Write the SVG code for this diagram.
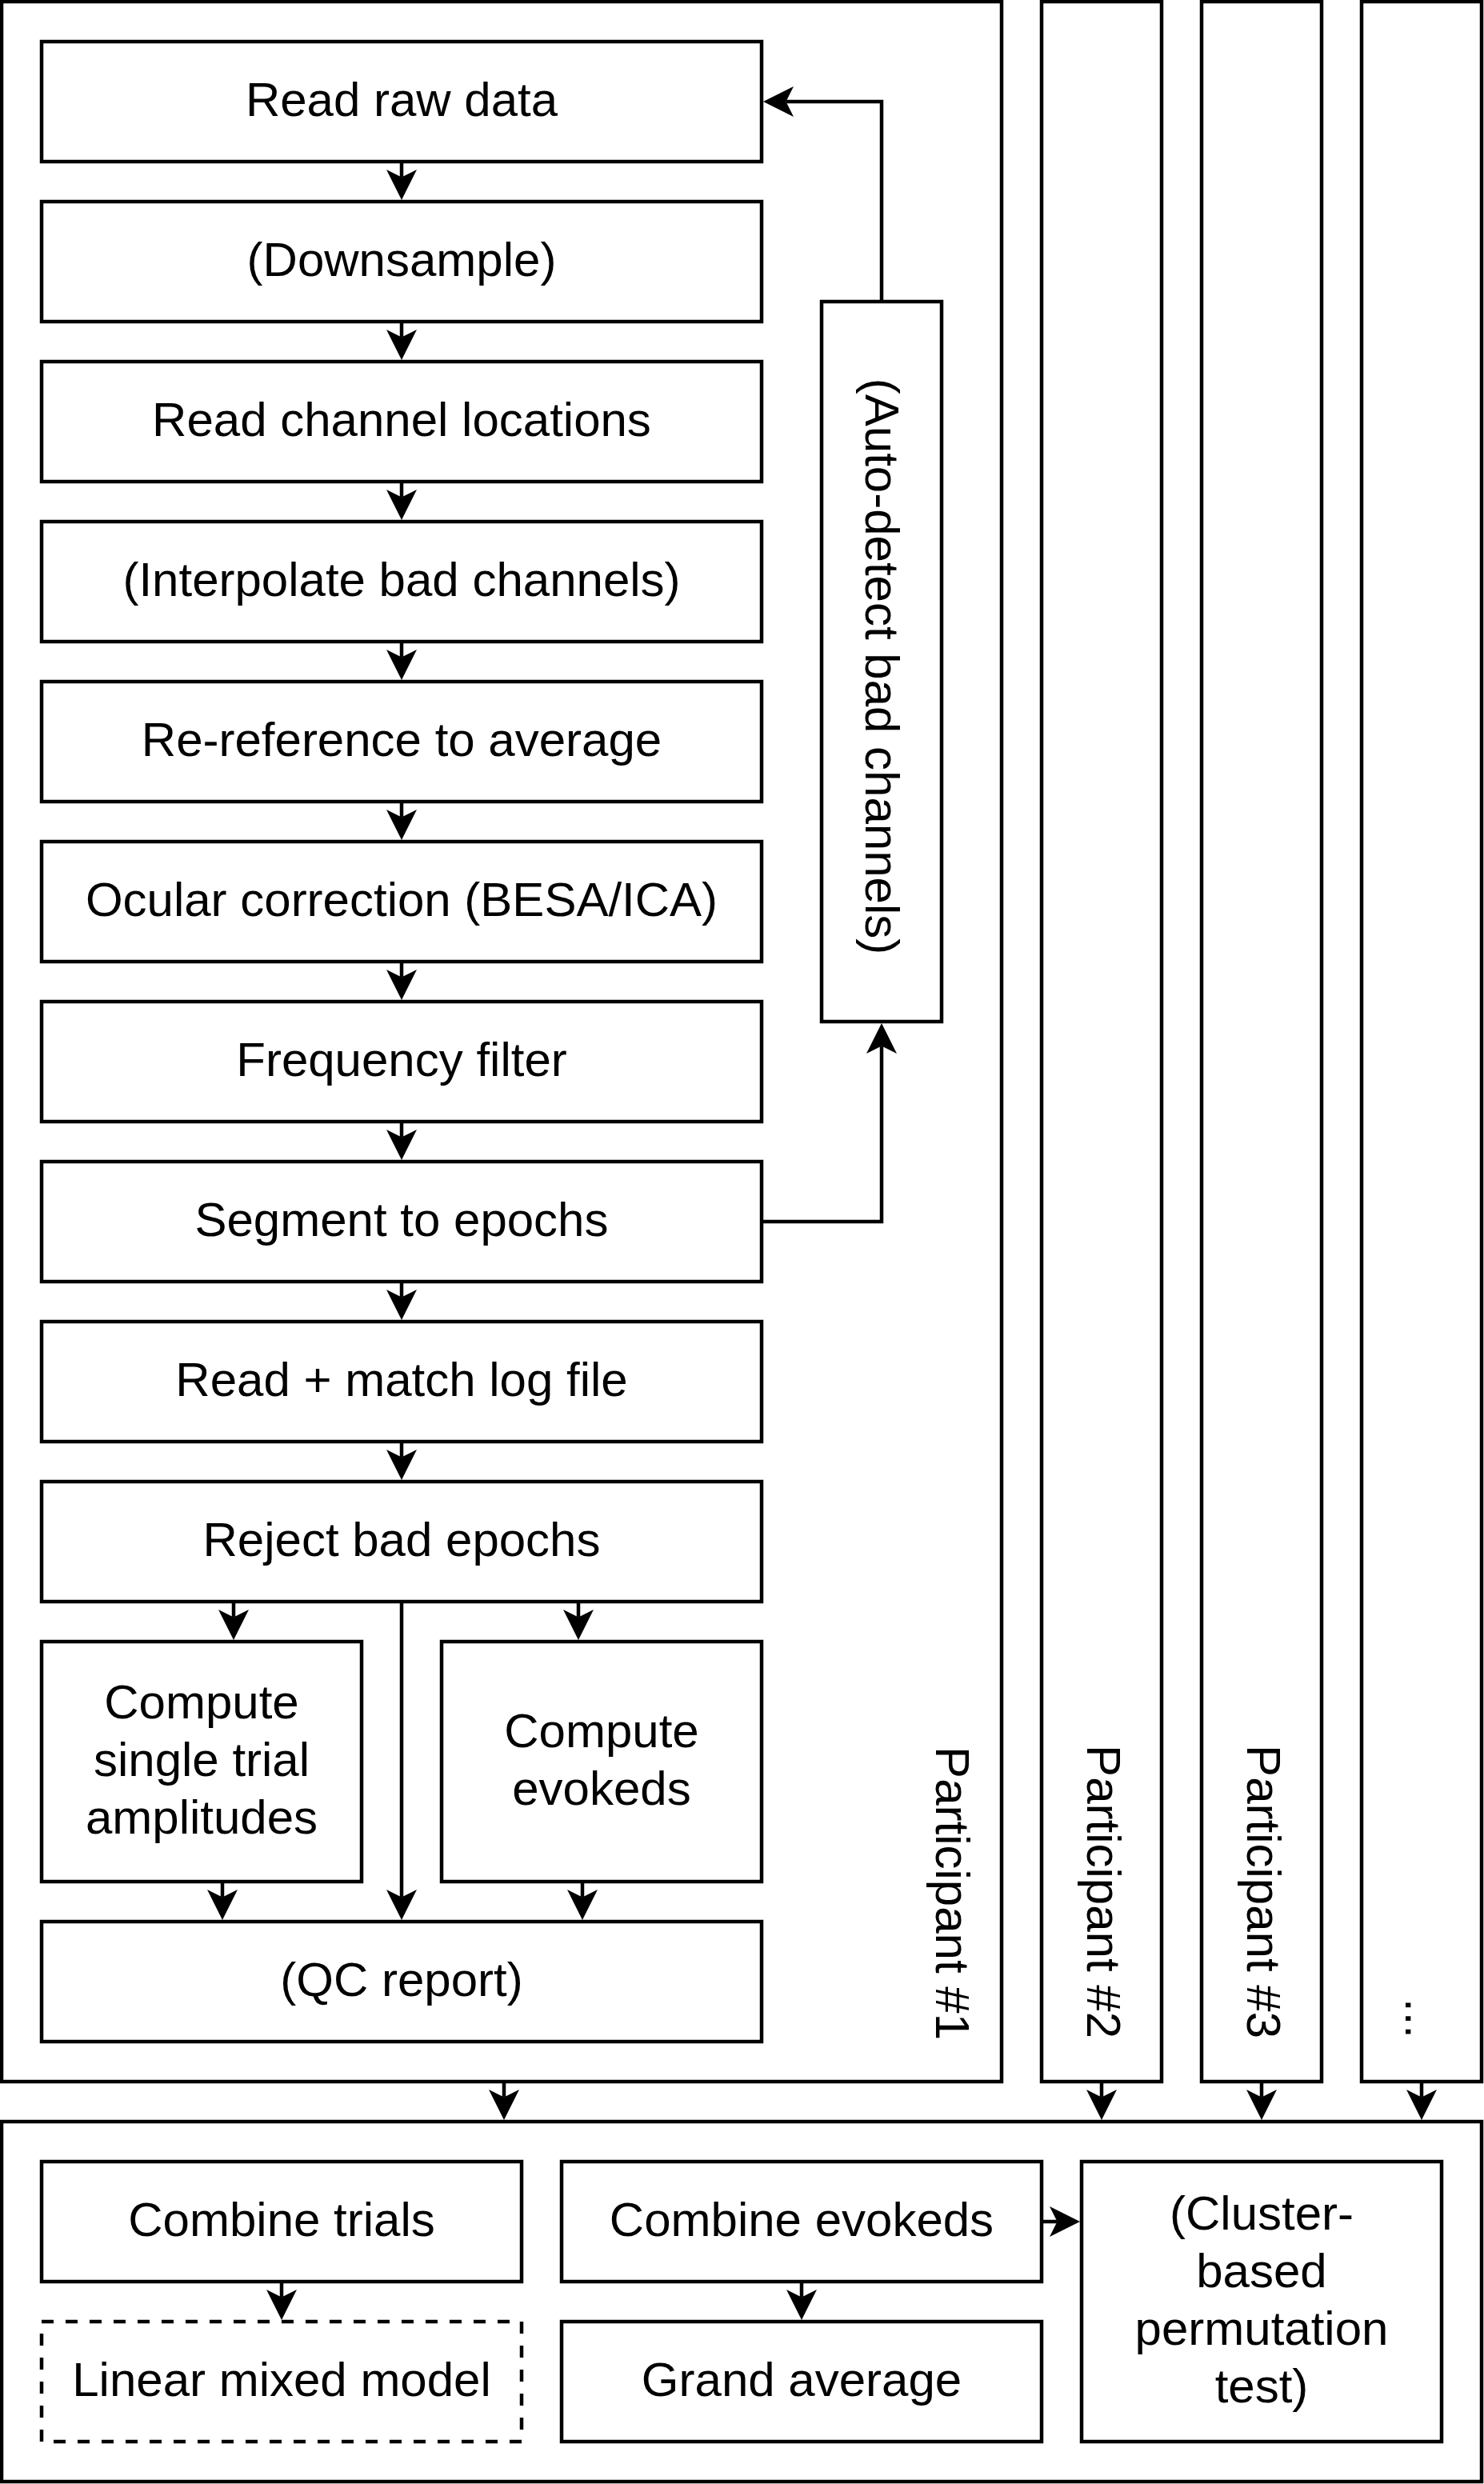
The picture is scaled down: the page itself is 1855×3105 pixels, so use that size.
<svg xmlns="http://www.w3.org/2000/svg" width="1855" height="3105" viewBox="0 0 1855 3105">
<style>
.box{fill:#fff;stroke:#000;stroke-width:4.5}
.cont{fill:#fff;stroke:#000;stroke-width:4.5}
.dash{fill:#fff;stroke:#000;stroke-width:4.5;stroke-dasharray:15 15}
.lbl{font-family:"Liberation Sans",Arial,Helvetica,sans-serif;font-size:60px;fill:#000;text-anchor:middle}
.end{text-anchor:end}
.edge{fill:none;stroke:#000;stroke-width:4.5;marker-end:url(#ah)}
</style>
<defs>
<marker id="ah" markerUnits="userSpaceOnUse" markerWidth="38" markerHeight="38" viewBox="0 0 38 38" refX="9.5" refY="19" orient="auto" overflow="visible">
<path d="M0,0 L38,19 L0,38 L9.5,19 Z" fill="#000"/>
</marker>
</defs>
<rect x="0" y="0" width="1855" height="3105" fill="#fff"/>
<g id="containers">
<g id="participant1"><rect class="cont" x="2" y="2" width="1250" height="2600"/><text class="lbl end" transform="translate(1170,2550) rotate(90)">Participant #1</text></g>
<g id="participant2"><rect class="cont" x="1302" y="2" width="150" height="2600"/><text class="lbl end" transform="translate(1359,2548) rotate(90)">Participant #2</text></g>
<g id="participant3"><rect class="cont" x="1502" y="2" width="150" height="2600"/><text class="lbl end" transform="translate(1559,2548) rotate(90)">Participant #3</text></g>
<g id="participantN"><rect class="cont" x="1702" y="2" width="150" height="2600"/><text class="lbl end" transform="translate(1757,2548) rotate(90)">...</text></g>
<g id="group"><rect class="cont" x="2" y="2652" width="1850" height="450"/></g>
</g>
<g id="n0"><rect class="box" x="52" y="52" width="900" height="150"/><text class="lbl" x="502" y="145">Read raw data</text></g>
<g id="n1"><rect class="box" x="52" y="252" width="900" height="150"/><text class="lbl" x="502" y="345">(Downsample)</text></g>
<g id="n2"><rect class="box" x="52" y="452" width="900" height="150"/><text class="lbl" x="502" y="545">Read channel locations</text></g>
<g id="n3"><rect class="box" x="52" y="652" width="900" height="150"/><text class="lbl" x="502" y="745">(Interpolate bad channels)</text></g>
<g id="n4"><rect class="box" x="52" y="852" width="900" height="150"/><text class="lbl" x="502" y="945">Re-reference to average</text></g>
<g id="n5"><rect class="box" x="52" y="1052" width="900" height="150"/><text class="lbl" x="502" y="1145">Ocular correction (BESA/ICA)</text></g>
<g id="n6"><rect class="box" x="52" y="1252" width="900" height="150"/><text class="lbl" x="502" y="1345">Frequency filter</text></g>
<g id="n7"><rect class="box" x="52" y="1452" width="900" height="150"/><text class="lbl" x="502" y="1545">Segment to epochs</text></g>
<g id="n8"><rect class="box" x="52" y="1652" width="900" height="150"/><text class="lbl" x="502" y="1745">Read + match log file</text></g>
<g id="n9"><rect class="box" x="52" y="1852" width="900" height="150"/><text class="lbl" x="502" y="1945">Reject bad epochs</text></g>
<g id="single"><rect class="box" x="52" y="2052" width="400" height="300"/><text class="lbl" x="252" y="2148">Compute</text><text class="lbl" x="252" y="2220">single trial</text><text class="lbl" x="252" y="2292">amplitudes</text></g>
<g id="evoked"><rect class="box" x="552" y="2052" width="400" height="300"/><text class="lbl" x="752" y="2184">Compute</text><text class="lbl" x="752" y="2256">evokeds</text></g>
<g id="qc"><rect class="box" x="52" y="2402" width="900" height="150"/><text class="lbl" x="502" y="2495">(QC report)</text></g>
<g id="auto"><rect class="box" x="1027" y="377" width="150" height="900"/><text class="lbl" transform="translate(1082,833) rotate(90)">(Auto-detect bad channels)</text></g>
<g id="ctrials"><rect class="box" x="52" y="2702" width="600" height="150"/><text class="lbl" x="352" y="2795">Combine trials</text></g>
<g id="lmm"><rect class="dash" x="52" y="2902" width="600" height="150"/><text class="lbl" x="352" y="2995">Linear mixed model</text></g>
<g id="cevoked"><rect class="box" x="702" y="2702" width="600" height="150"/><text class="lbl" x="1002" y="2795">Combine evokeds</text></g>
<g id="grand"><rect class="box" x="702" y="2902" width="600" height="150"/><text class="lbl" x="1002" y="2995">Grand average</text></g>
<g id="cluster"><rect class="box" x="1352" y="2702" width="450" height="350"/><text class="lbl" x="1577" y="2787">(Cluster-</text><text class="lbl" x="1577" y="2859">based</text><text class="lbl" x="1577" y="2931">permutation</text><text class="lbl" x="1577" y="3003">test)</text></g>
<g id="connectors">
<path class="edge" d="M502,202 V221.5"/>
<path class="edge" d="M502,402 V421.5"/>
<path class="edge" d="M502,602 V621.5"/>
<path class="edge" d="M502,802 V821.5"/>
<path class="edge" d="M502,1002 V1021.5"/>
<path class="edge" d="M502,1202 V1221.5"/>
<path class="edge" d="M502,1402 V1421.5"/>
<path class="edge" d="M502,1602 V1621.5"/>
<path class="edge" d="M502,1802 V1821.5"/>
<path class="edge" d="M292,2002 V2021.5"/>
<path class="edge" d="M723,2002 V2021.5"/>
<path class="edge" d="M502,2002 V2371.5"/>
<path class="edge" d="M278,2352 V2371.5"/>
<path class="edge" d="M728,2352 V2371.5"/>
<path class="edge" d="M952,1527 H1102 V1307.5"/>
<path class="edge" d="M1102,377 V127 H982.5"/>
<path class="edge" d="M630,2602 V2621.5"/>
<path class="edge" d="M1377,2602 V2621.5"/>
<path class="edge" d="M1577,2602 V2621.5"/>
<path class="edge" d="M1777,2602 V2621.5"/>
<path class="edge" d="M352,2852 V2871.5"/>
<path class="edge" d="M1002,2852 V2871.5"/>
<path class="edge" d="M1302,2777 H1321.5"/>
</g>
</svg>
